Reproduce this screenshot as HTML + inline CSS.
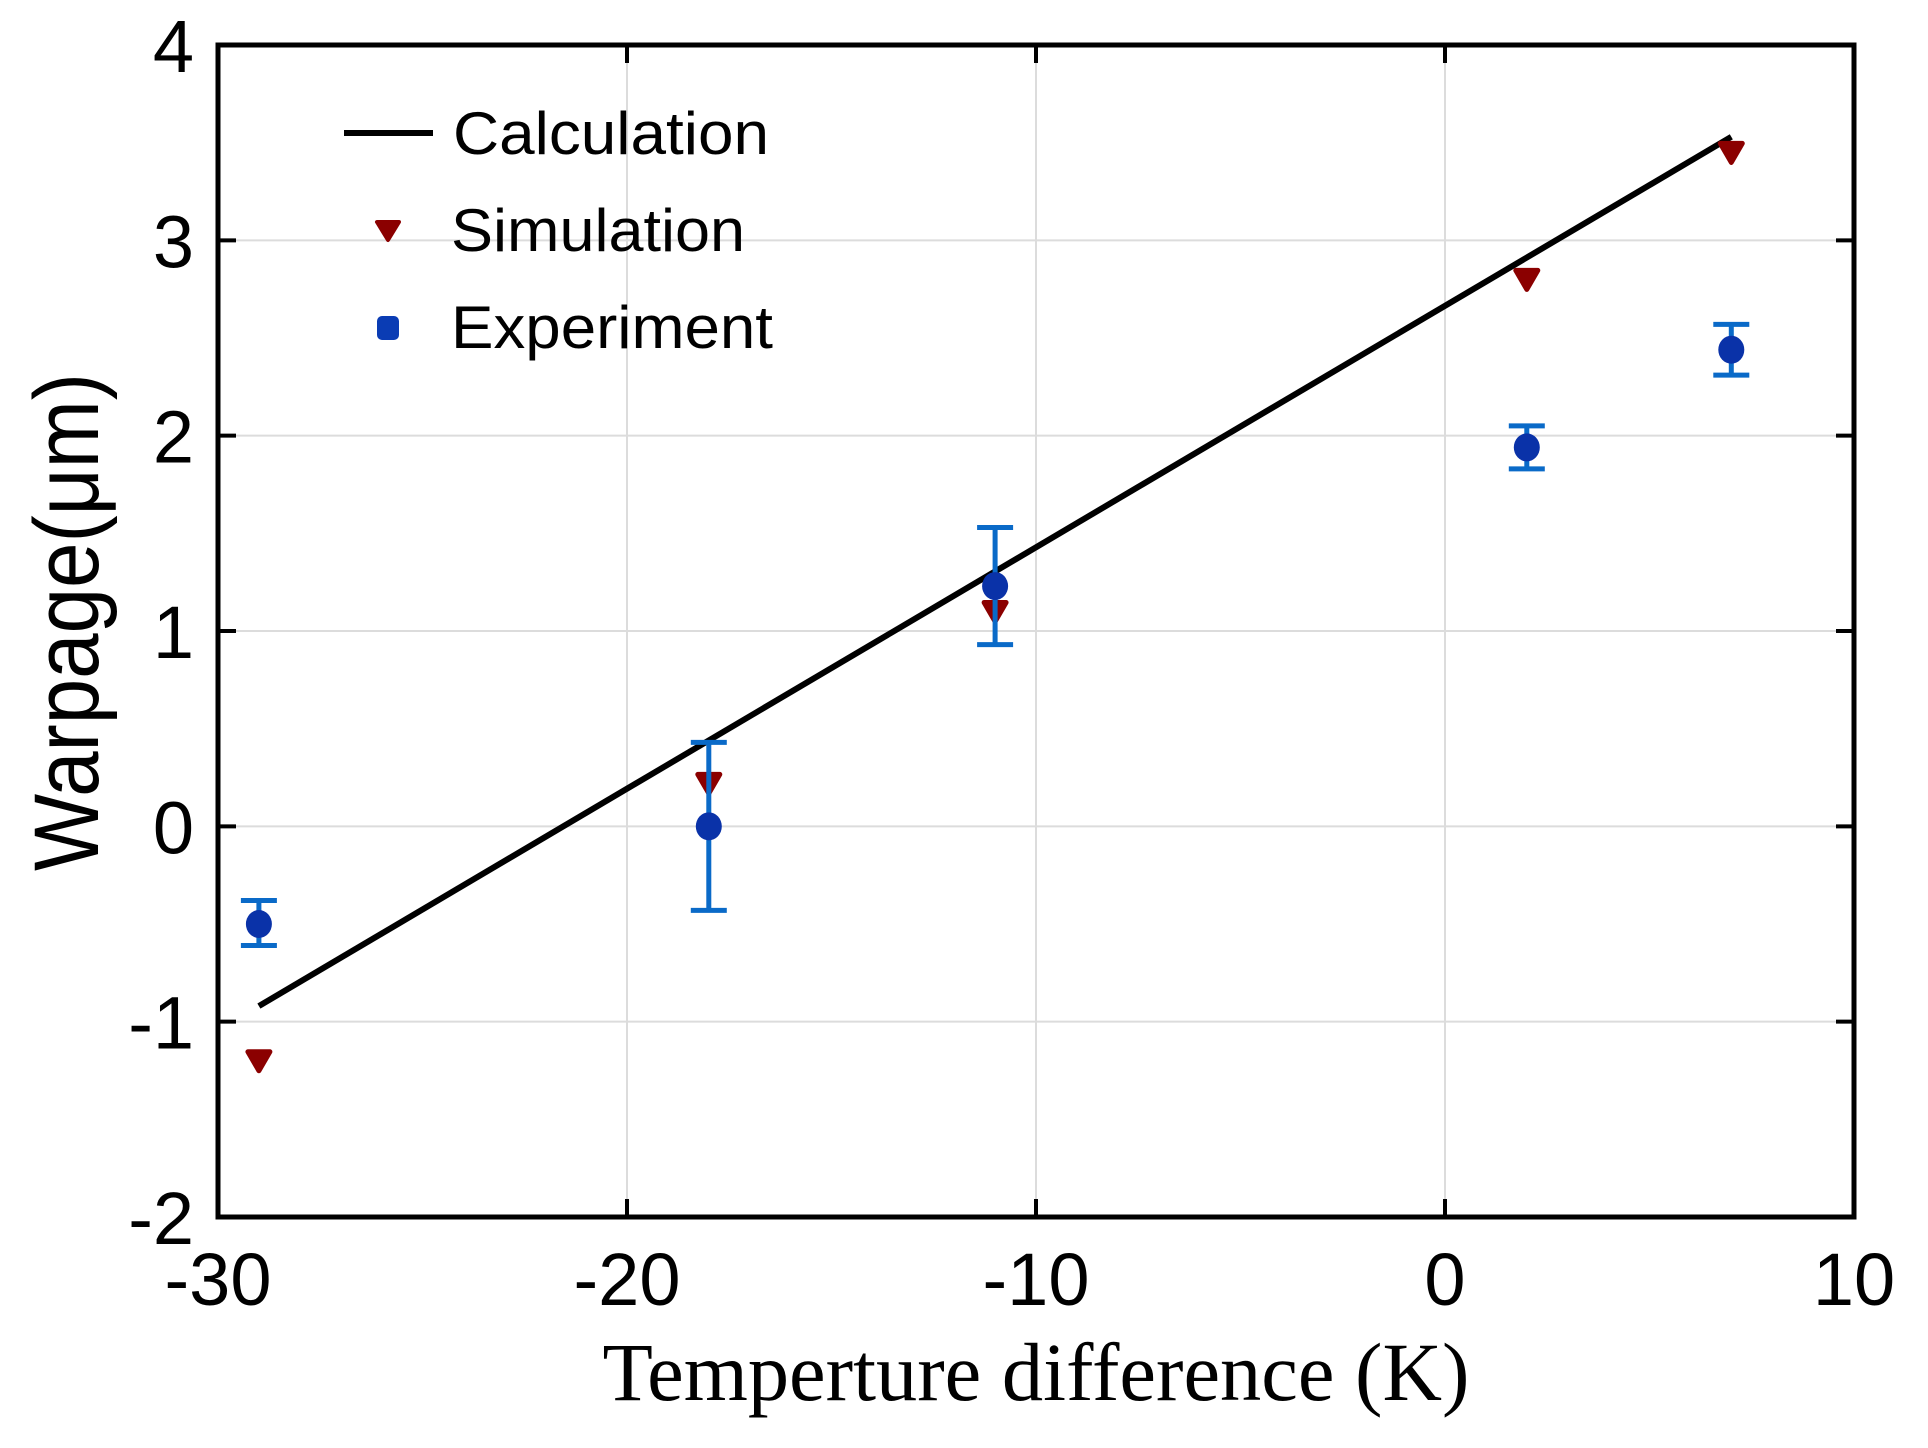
<!DOCTYPE html>
<html><head><meta charset="utf-8"><style>html,body{margin:0;padding:0;background:#fff}svg{display:block}</style></head>
<body>
<svg id="chart" width="1928" height="1448" xmlns="http://www.w3.org/2000/svg">
<g id="grid"></g>
<g id="series"></g>
<rect x="218" y="45" width="1636" height="1172" fill="none" stroke="#000" stroke-width="5"/>
<g id="ticks"></g>
<text x="1036" y="1400" text-anchor="middle" font-family="Liberation Serif, serif" font-size="83" textLength="867" lengthAdjust="spacingAndGlyphs">Temperture difference (K)</text>
<text transform="translate(98,622) rotate(-90)" text-anchor="middle" font-family="Liberation Sans, sans-serif" font-size="92" textLength="498" lengthAdjust="spacingAndGlyphs">Warpage(μm)</text>
<g font-family="Liberation Sans, sans-serif" font-size="60">
  <line x1="344" y1="133" x2="433" y2="133" stroke="#000" stroke-width="6"/>
  <text x="453" y="154" textLength="316" lengthAdjust="spacingAndGlyphs">Calculation</text>
  <path d="M377,222 L399,222 L388,240 Z" fill="#8b0000" stroke="#8b0000" stroke-width="4" stroke-linejoin="round"/>
  <text x="451" y="251" textLength="294" lengthAdjust="spacingAndGlyphs">Simulation</text>
  <rect x="377" y="316" width="22" height="24" rx="5" fill="#0a3cb4"/>
  <text x="451" y="348" textLength="322" lengthAdjust="spacingAndGlyphs">Experiment</text>
</g>
</svg>
<script>
const xTicks = [-30, -20, -10, 0, 10];
const yTicks = [-2, -1, 0, 1, 2, 3, 4];
const calcX = [-29, 7];
const calcY = [-0.92, 3.53];
const simX = [-29, -18, -11, 2, 7];
const simY = [-1.2, 0.22, 1.1, 2.8, 3.45];
const expX = [-29, -18, -11, 2, 7];
const expY = [-0.5, 0.0, 1.23, 1.94, 2.44];
const expLo = [-0.61, -0.43, 0.93, 1.83, 2.31];
const expHi = [-0.38, 0.43, 1.53, 2.05, 2.57];

const L=218,R=1854,T=45,B=1217;
const sx=v=>L+(v+30)/40*(R-L);
const sy=v=>B-(v+2)/6*(B-T);
const NS='http://www.w3.org/2000/svg';
function mk(tag,attrs,parent){const e=document.createElementNS(NS,tag);for(const k in attrs)e.setAttribute(k,attrs[k]);parent.appendChild(e);return e;}
const grid=document.getElementById('grid'),ticks=document.getElementById('ticks'),ser=document.getElementById('series');
xTicks.forEach(v=>{
  const g=mk('line',{x1:sx(v),x2:sx(v),y1:T,y2:B,stroke:'#dcdcdc','stroke-width':2},grid);
  
  
  const t=mk('line',{x1:sx(v),x2:sx(v),y1:B,y2:B-18,stroke:'#000','stroke-width':4},ticks);
  
  
  const t2=mk('line',{x1:sx(v),x2:sx(v),y1:T,y2:T+18,stroke:'#000','stroke-width':4},ticks);
  
  
  const lb=mk('text',{x:sx(v),y:1305,'text-anchor':'middle','font-family':'Liberation Sans, sans-serif','font-size':74},ticks);
  lb.textContent=String(v);
  
  
});
yTicks.forEach(v=>{
  const g=mk('line',{x1:L,x2:R,y1:sy(v),y2:sy(v),stroke:'#dcdcdc','stroke-width':2},grid);
  
  
  const t=mk('line',{x1:L,x2:L+18,y1:sy(v),y2:sy(v),stroke:'#000','stroke-width':4},ticks);
  
  
  const t2=mk('line',{x1:R,x2:R-18,y1:sy(v),y2:sy(v),stroke:'#000','stroke-width':4},ticks);
  
  
  const lb=mk('text',{x:194,y:sy(v)+27,'text-anchor':'end','font-family':'Liberation Sans, sans-serif','font-size':74},ticks);
  lb.textContent=String(v);
  
  
});
const cl=mk('line',{x1:sx(calcX[0]),y1:sy(calcY[0]),x2:sx(calcX[1]),y2:sy(calcY[1]),stroke:'#000','stroke-width':6},ser);


simX.forEach((v,i)=>{
  const x=sx(v),y=sy(simY[i]);
  const p=mk('path',{d:`M${x-11},${y-9} L${x+11},${y-9} L${x},${y+10} Z`,fill:'#8b0000',stroke:'#8b0000','stroke-width':5,'stroke-linejoin':'round'},ser);
  
  
});
expX.forEach((v,i)=>{
  const x=sx(v),y=sy(expY[i]),y1=sy(expLo[i]),y2=sy(expHi[i]);
  const eb=mk('path',{d:`M${x},${y1} L${x},${y2} M${x-18},${y1} L${x+18},${y1} M${x-18},${y2} L${x+18},${y2}`,stroke:'#0a6ac8','stroke-width':5,fill:'none'},ser);
  
  
  const c=mk('ellipse',{cx:x,cy:y,rx:13,ry:14,fill:'#0a32a8'},ser);
  
  
});
</script>
</body></html>
